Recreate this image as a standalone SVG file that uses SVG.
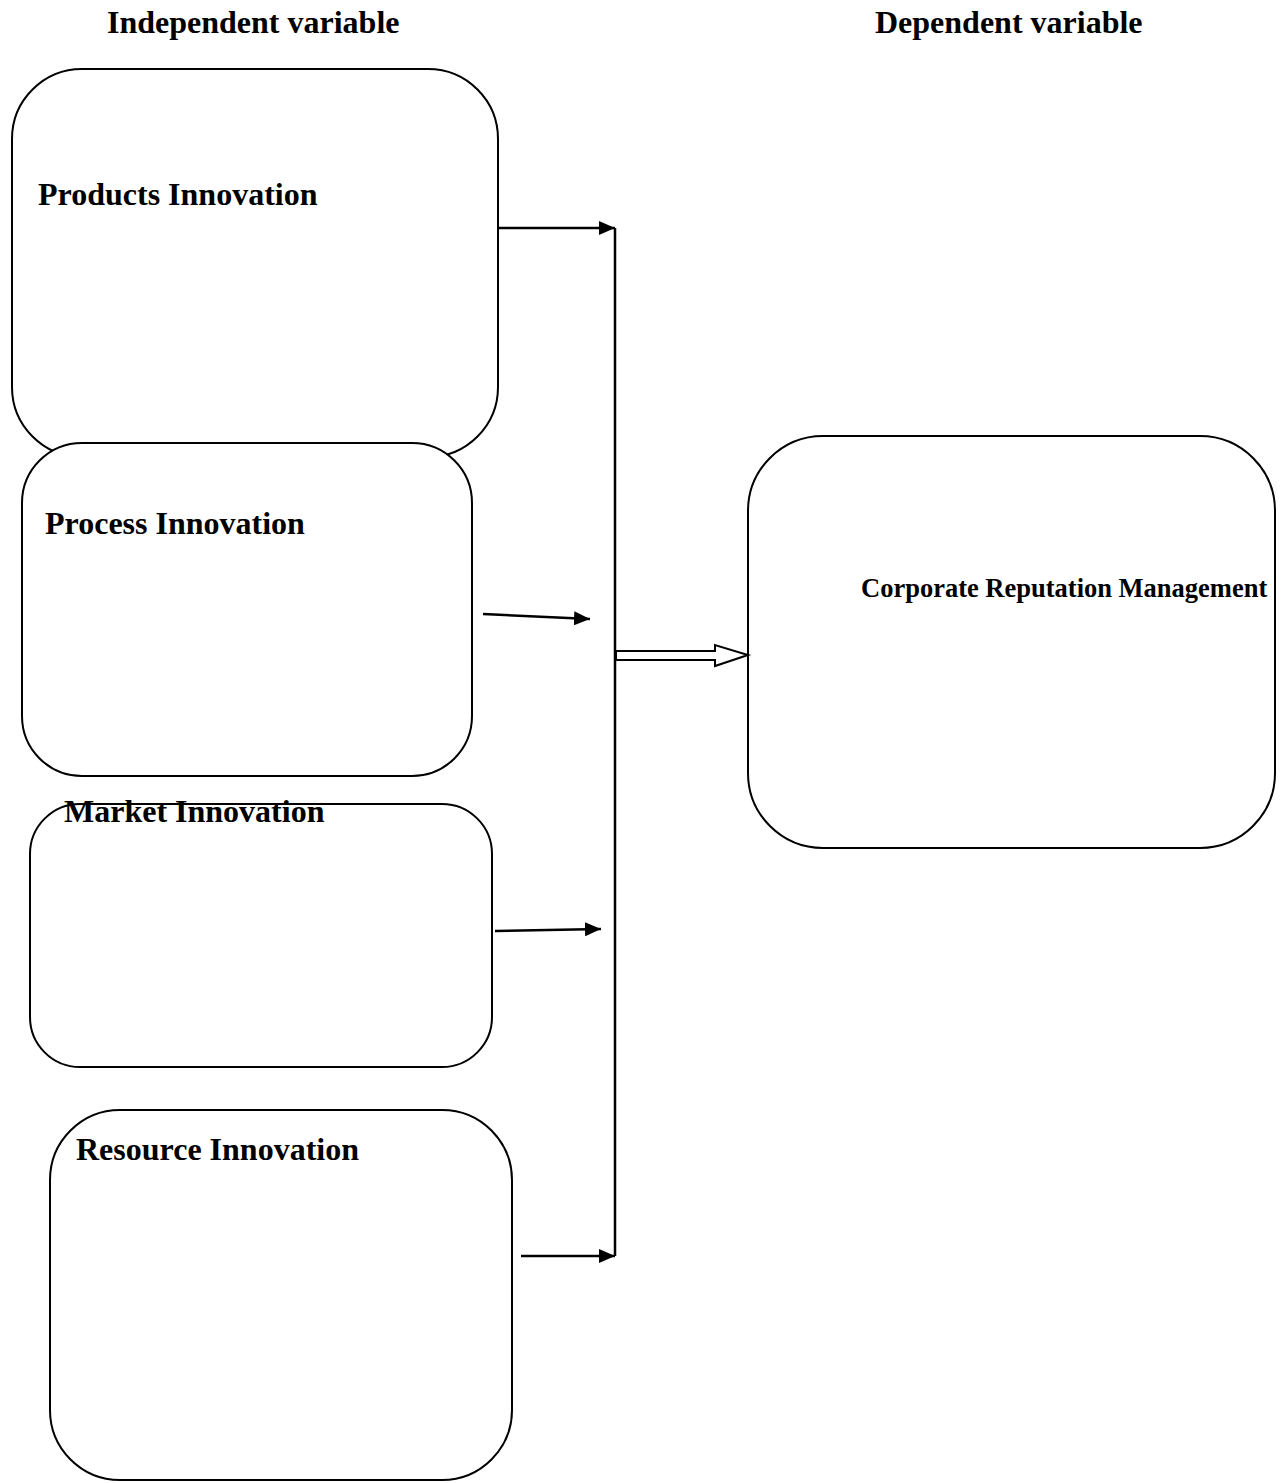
<svg xmlns="http://www.w3.org/2000/svg" width="1283" height="1483" viewBox="0 0 1283 1483">
<style>
.box{fill:#fff;stroke:#000;stroke-width:2}
.t{font-family:"Liberation Serif","Times New Roman",serif;font-weight:bold;fill:#000}
.c{stroke:#000;stroke-width:2.5;fill:none}
</style>
<defs>
<marker id="ah" markerWidth="16" markerHeight="14" refX="16" refY="7" orient="auto" markerUnits="userSpaceOnUse" viewBox="0 0 16 14">
<path d="M0,0 L16,7 L0,14 Z" fill="#000"/>
</marker>
</defs>
<rect width="1283" height="1483" fill="#fff"/>
<g id="titles">
<text class="t" x="107" y="33" font-size="32">Independent variable</text>
<text class="t" x="875" y="33" font-size="32">Dependent variable</text>
</g>
<g id="products">
<rect class="box" x="12" y="69" width="486" height="388" rx="70" ry="70"/>
<text class="t" x="38" y="205" font-size="32">Products Innovation</text>
</g>
<g id="process">
<rect class="box" x="22" y="443" width="450" height="333" rx="60" ry="60"/>
<text class="t" x="45" y="534" font-size="32">Process Innovation</text>
</g>
<g id="market">
<rect class="box" x="30" y="804" width="462" height="263" rx="50" ry="50"/>
<text class="t" x="64" y="822" font-size="32">Market Innovation</text>
</g>
<g id="resource">
<rect class="box" x="50" y="1110" width="462" height="370" rx="70" ry="70"/>
<text class="t" x="76" y="1160" font-size="32">Resource Innovation</text>
</g>
<g id="crm">
<rect class="box" x="748" y="436" width="527" height="412" rx="75" ry="75"/>
<text class="t" x="861" y="597" font-size="26.5">Corporate Reputation Management</text>
</g>
<g id="connectors">
<line class="c" x1="615" y1="228" x2="615" y2="1256"/>
<line class="c" x1="498" y1="228" x2="615" y2="228" marker-end="url(#ah)"/>
<line class="c" x1="483" y1="614" x2="590" y2="619" marker-end="url(#ah)"/>
<line class="c" x1="495" y1="931" x2="601" y2="929" marker-end="url(#ah)"/>
<line class="c" x1="521" y1="1256" x2="615" y2="1256" marker-end="url(#ah)"/>
<path d="M616,651 L715,651 L715,645 L748,655 L715,666 L715,660 L616,660 Z" fill="#fff" stroke="#000" stroke-width="2"/>
</g>
</svg>
